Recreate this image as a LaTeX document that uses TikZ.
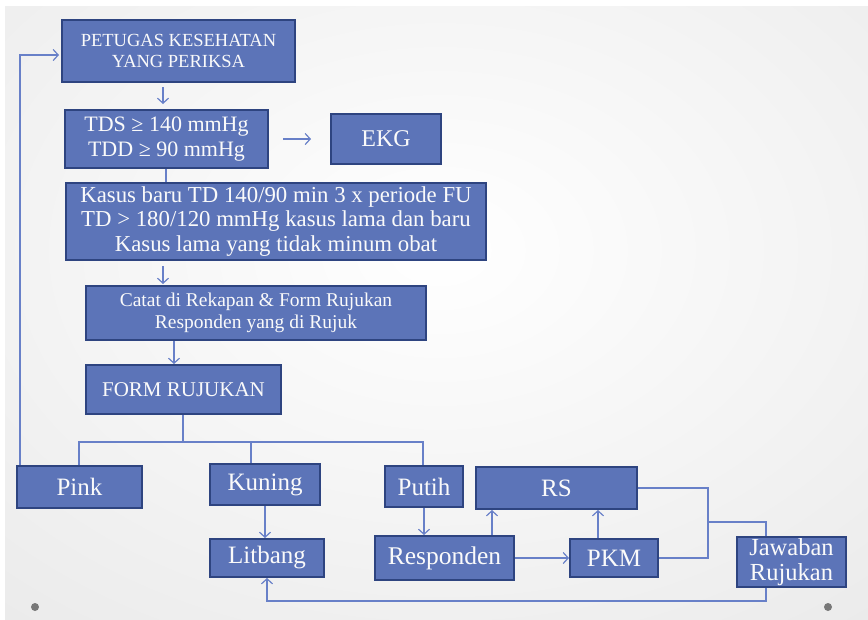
\documentclass[tikz,border=0pt]{standalone}
\usepackage{fontspec}
\setmainfont{Liberation Serif}
\usetikzlibrary{arrows.meta}
\definecolor{boxfill}{RGB}{92,116,184}
\definecolor{boxedge}{RGB}{46,68,128}
\definecolor{wire}{RGB}{104,128,200}
\definecolor{dotgray}{RGB}{120,120,120}
\newcommand{\fsz}[2]{\fontsize{#1}{#2}\selectfont}
\tikzset{
  box/.style={draw=boxedge, line width=2pt, fill=boxfill, text=white!96!gray,
    align=center, inner sep=0pt},
  conn/.style={draw=wire, line width=1.2pt},
  arr/.style={conn, -{Straight Barb[length=5pt,width=11pt]}},
}
\begin{document}
\begin{tikzpicture}[x=1pt,y=-1pt]
\useasboundingbox (0,0) rectangle (868,619);
% slide background: white middle fading to light grey at the edges
\fill[white] (0,0) rectangle (868,619);
\begin{scope}
  \clip (5,6) rectangle (868,619);
  \shade[inner color=white, outer color=gray!20] (-428,-360) rectangle (1308,860);
\end{scope}
\fill[dotgray] (35,607) circle (4);
\fill[dotgray] (828,607) circle (4);

% boxes
\node[box, minimum width=233pt, minimum height=62pt, font=\fsz{18.5}{20.5}] (pet) at (178.5,51)
  {PETUGAS KESEHATAN\\YANG PERIKSA};
\node[box, minimum width=203pt, minimum height=58pt, font=\fsz{22}{25}] (tds) at (166.5,139)
  {TDS ≥ 140 mmHg\\TDD ≥ 90 mmHg};
\node[box, minimum width=110pt, minimum height=50pt, font=\fsz{24}{28}] (ekg) at (386,139) {EKG};
\node[box, minimum width=420pt, minimum height=77pt, font=\fsz{22.8}{24.5}] (kasus) at (276,221.5)
  {Kasus baru TD 140/90 min 3 x periode FU\\TD > 180/120 mmHg kasus lama dan baru\\Kasus lama yang tidak minum obat};
\node[box, minimum width=340pt, minimum height=54pt, font=\fsz{19.5}{21.5}] (catat) at (256,313)
  {Catat di Rekapan \& Form Rujukan\\Responden yang di Rujuk};
\node[box, minimum width=195pt, minimum height=49pt, font=\fsz{21}{24}] (form) at (183.5,389.5) {FORM RUJUKAN};
\node[box, minimum width=125pt, minimum height=42pt, font=\fsz{25}{28}] (pink) at (79.5,487) {Pink};
\node[box, minimum width=110pt, minimum height=41pt, font=\fsz{25}{28}] (kuning) at (265,484.5) {Kuning};
\node[box, minimum width=78pt, minimum height=41pt, font=\fsz{25}{28}] (putih) at (424,486.5) {Putih};
\node[box, minimum width=161pt, minimum height=42pt, font=\fsz{25}{28}] (rs) at (556.5,488) {RS};
\node[box, minimum width=114pt, minimum height=38pt, font=\fsz{25}{28}] (litbang) at (267,558) {Litbang};
\node[box, minimum width=139pt, minimum height=44pt, font=\fsz{25.5}{28}] (resp) at (444.5,558) {Responden};
\node[box, minimum width=88pt, minimum height=38pt, font=\fsz{25}{28}] (pkm) at (614,558) {PKM};
\node[box, minimum width=109pt, minimum height=50pt, font=\fsz{24.5}{25.5}] (jaw) at (791.5,562) {Jawaban\\Rujukan};

% reference columns and junctions for the wiring
\coordinate (xa) at (163,0);
\coordinate (xc) at (166,0);
\coordinate (xd) at (174,0);
\coordinate (bus) at (183,442);
\coordinate (b1) at (79,442);
\coordinate (b2) at (251,442);
\coordinate (b3) at (423,442);
\coordinate (fb) at (20,55);
\coordinate (xr) at (492,0);
\coordinate (xp) at (598,0);
\coordinate (m) at (708,522);
\coordinate (xj) at (766,601);

% main flow
\draw[arr, shorten <=4pt, shorten >=5pt] (pet.south -| xa) -- (tds.north -| xa);
\draw[arr, shorten <=14pt, shorten >=19pt] (tds.east) -- (ekg.west);
\draw[conn] (tds.south -| xc) -- (kasus.north -| xc);
\draw[arr, shorten <=5pt, shorten >=1pt] (kasus.south -| xa) -- (catat.north -| xa);
\draw[arr] (catat.south -| xd) -- (form.north -| xd);

% form copies
\draw[conn] (form.south -| bus) -- (bus);
\draw[conn] (pink.north -| b1) -- (b1) -- (b3) -- (putih.north -| b3);
\draw[conn] (b2) -- (kuning.north -| b2);
\draw[arr, shorten >=2pt] (pink.north -| fb) -- (fb) -- (pet.west |- fb);

% routing of the copies
\draw[arr] (kuning.south) -- (kuning.south |- litbang.north);
\draw[arr] (putih.south) -- (putih.south |- resp.north);
\draw[arr] (resp.north -| xr) -- (rs.south -| xr);
\draw[arr] (pkm.north -| xp) -- (rs.south -| xp);
\draw[arr] (resp.east) -- (pkm.west);
\draw[conn] (rs.east) -| (m);
\draw[conn] (pkm.east) -| (m);
\draw[conn] (m) -| (jaw.north -| xj);
\draw[arr] (jaw.south -| xj) -- (xj) -| (litbang.south);
\end{tikzpicture}
\end{document}
